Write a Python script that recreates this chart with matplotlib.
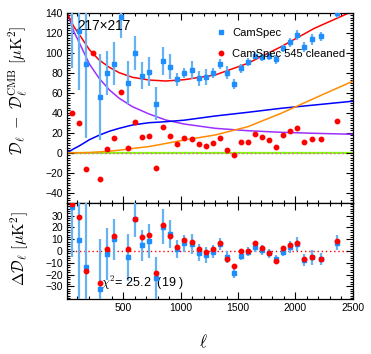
import numpy as np
import matplotlib
matplotlib.use("Agg")
import matplotlib.pyplot as plt
from matplotlib.ticker import MultipleLocator

plt.rcParams['font.family'] = ['Liberation Sans', 'DejaVu Sans']
plt.rcParams['mathtext.fontset'] = 'cm'

# ---------------- data ----------------
ell_bins = [50, 112, 175, 235, 296, 362, 420, 480, 541, 604, 665, 725, 786, 847,
            911, 971, 1032, 1095, 1156, 1217, 1280, 1340, 1401, 1462, 1526, 1586,
            1647, 1710, 1771, 1834, 1895, 1955, 2016, 2077, 2141, 2221, 2362]

camspec = [170, 121.7, 89, np.nan, 56, 80, 89, 136, 70, 100, 77, 81, 49, 92,
           86, 73.4, 80, 82.7, 74.4, 75.4, 80, 88.7, 80, 68.4, 84.4, 91,
           97, 95.4, 96.7, 93.4, 104.4, 110.4, 117.7, 106, 113.4, 116.7, 139.4]
camspec_err = [85, 59, 74, np.nan, 43, 22, 21.5, 21.5, 21.5, 17, 13.5, 14.5, 16.5, 14,
               12.5, 6.7, 5, 9, 7.7, 8, 5, 5.3, 6.7, 5, 4.3, 3.8,
               3.3, 3.7, 3.7, 4.2, 3.8, 4.2, 5, 5, 5.5, 4.5, 4.2]
cleaned = [40, 29.4, -16, 99.4, -26, 3.4, 14.4, 61, 4.4, 31, 15.4, 16.7, -15, 26,
           17, 8.7, 15, 14, 8.4, 6.7, 9.4, 15, 2.7, -2.6, 10.7, 11,
           18.7, 15.4, 12.4, 6, 17.7, 21.7, 24.4, 11, 14, 13.7, 31.7]

res_camspec = [37.6, 9.3, -13.3, np.nan, -32.5, -2.5, 9.9, np.nan, -5.4, 26.9, 4.8, 8.8, -23.2, 20.6,
               14.4, 1.7, 6.5, 6.0, -1.4, -3.4, -0.6, 5.9, -5.4, -19, -4.2, -0.5,
               3.1, 0.85, -2, -7, -0.85, 3.1, 6, -7.5, -5.4, -6.6, 7]
res_err = [43, 60, 74, np.nan, 43, 22.3, 17.4, np.nan, 20, 15, 13.4, 14.5, 18, 15,
           12, 8, 7, 8.5, 7.5, 6.5, 5.7, 5, 5, 4.2, 3.8, 4,
           3.8, 4.2, 3.8, 3.8, 3.4, 5, 5.7, 5, 6.5, 5, 6.4]
res_cleaned = [40, 28.6, -16.7, np.nan, -27, 1.7, 12.7, np.nan, 1.4, 27.4, 12.2, 13.6, -18.4, 21.8,
               12.7, 3.7, 9.3, 7.9, 1.7, -0.85, 1.4, 6.5, -7, -13, -0.3, -0.3,
               6.8, 2.5, -1.4, -8.2, 2.5, 5.1, 7, -7, -5.4, -6.6, 8.8]

ell_model = [10, 35, 70, 120, 205, 290, 380, 465, 580, 725, 870, 1030, 1300, 1585, 1875, 2165, 2500]
model_total = [140, 134, 126, 117.7, 103, 92.7, 85.3, 80, 75.4, 72.7, 71.7, 73, 77.7, 89.4, 106, 124.4, 141.5]
model_cib = [140, 132.7, 121, 109.3, 88.7, 74.4, 62.7, 54.4, 46, 38.7, 32.7, 28.7, 24.4, 22, 20.4, 19.4, 18.4]
model_sz = [0, 1.5, 4, 7, 13, 17.5, 21.5, 24.4, 27.7, 30, 31, 32.5, 36.7, 40.4, 44.4, 47.7, 51.5]
model_ps = [0, 0, 0, 0, 0.2, 0.8, 1.5, 2.5, 4.2, 6.2, 9.2, 12.7, 17.7, 26, 39.4, 54.4, 71.5]

# ---------------- figure ----------------
fig = plt.figure(figsize=(3.71, 3.54), dpi=100)
ax1 = fig.add_axes([0.1806, 0.4274, 0.7704, 0.5367])
ax2 = fig.add_axes([0.1806, 0.1545, 0.7704, 0.2729])

blue_pt = '#1e8fff'
blue_bar = '#66b2f2'

# top panel
ax1.plot([10, 2500], [0, 0], color='#7fff00', lw=1.6, zorder=1)
ax1.plot([10, 2500], [0, 0], color='#ff40ff', lw=1.0, ls=(0, (1, 2)), zorder=1.1)
ax1.plot(ell_model, model_cib, color='#9b30ff', lw=1.1, zorder=2)
ax1.plot(ell_model, model_sz, color='#0000ff', lw=1.1, zorder=2)
ax1.plot(ell_model, model_ps, color='#ff8c00', lw=1.1, zorder=2)
ax1.plot(ell_model, model_total, color='#ff0000', lw=1.1, zorder=2)
ax1.errorbar(ell_bins, camspec, yerr=camspec_err, fmt='s', ms=3, color=blue_pt,
             ecolor=blue_bar, elinewidth=1.6, capsize=0, zorder=3)
h_cs, = ax1.plot([], [], 's', ms=3, color=blue_pt, ls='none')
h_cl, = ax1.plot(ell_bins, cleaned, 'o', ms=3.2, color='#ff0000', ls='none', zorder=4)

ax1.set_xlim(10, 2500)
ax1.set_ylim(-50, 140)
ax1.yaxis.set_minor_locator(MultipleLocator(2.5))
ax1.set_yticks([-40, -20, 0, 20, 40, 60, 80, 100, 120, 140])
ax1.tick_params(labelbottom=False)
ax1.text(0.035, 0.93, '217×217', transform=ax1.transAxes, fontsize=9.8, va='center', ha='left')
leg = ax1.legend([h_cs, h_cl], ['CamSpec', 'CamSpec 545 cleaned'],
                 loc='upper left', bbox_to_anchor=(0.53, 0.92), frameon=False, fontsize=8,
                 handlelength=0.5, handletextpad=0.75, labelspacing=1.0, borderpad=0,
                 borderaxespad=0, numpoints=1)

# bottom panel
ax2.axhline(0, color='#ff0000', lw=1.0, ls=(0, (1, 2)), zorder=1)
ax2.errorbar(ell_bins, res_camspec, yerr=res_err, fmt='s', ms=3, color=blue_pt,
             ecolor=blue_bar, elinewidth=1.6, capsize=0, zorder=3)
ax2.plot(ell_bins, res_cleaned, 'o', ms=3.2, color='#ff0000', ls='none', zorder=4)
ax2.set_xlim(10, 2500)
ax2.set_ylim(-41, 41)
ax2.set_yticks([-30, -20, -10, 0, 10, 20, 30])
ax2.yaxis.set_minor_locator(MultipleLocator(2))
ax2.text(0.12, 0.17, r'$\chi^2$= 25.2  (19 )', transform=ax2.transAxes, fontsize=9,
         va='center', ha='left')

for ax in (ax1, ax2):
    ax.xaxis.set_major_locator(MultipleLocator(500))
    ax.xaxis.set_minor_locator(MultipleLocator(100))
    ax.tick_params(which='both', direction='in', top=True, right=True, labelsize=7.5,
                   width=0.8, pad=3)
    ax.tick_params(which='major', length=5)
    ax.tick_params(which='minor', length=2.5)
    for s in ax.spines.values():
        s.set_linewidth(0.9)

fig.text(0.049, 0.745, r'$\mathcal{D}_\ell\ -\ \mathcal{D}_\ell^{\rm CMB}\ [\mu{\rm K}^2]$',
         rotation=90, ha='center', va='center', fontsize=11.5)
fig.text(0.054, 0.297, r'$\Delta\mathcal{D}_\ell\ [\mu{\rm K}^2]$',
         rotation=90, ha='center', va='center', fontsize=11.5)
fig.text(0.548, 0.035, r'$\ell$', ha='center', va='center', fontsize=12)

fig.savefig('out.png', dpi=100)
